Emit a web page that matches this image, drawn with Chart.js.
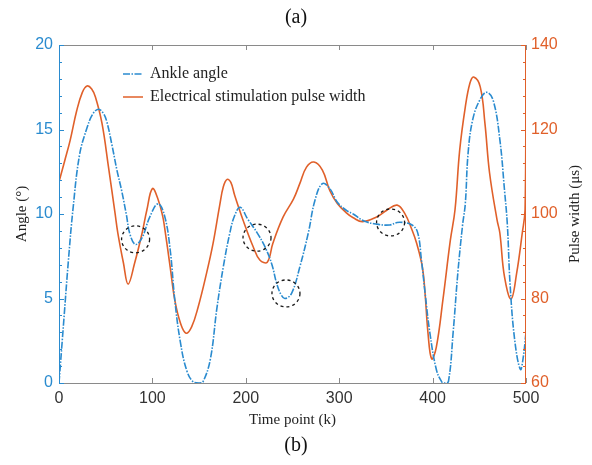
<!DOCTYPE html>
<html>
<head>
<meta charset="utf-8">
<script src="https://cdn.jsdelivr.net/npm/chart.js@4.4.0/dist/chart.umd.min.js"></script>
<style>
html, body { margin: 0; padding: 0; background: #fff; }
</style>
</head>
<body>
<canvas id="myChart" width="592" height="465"></canvas>
<script>
// ankle angle (deg)
let angleTimes = [0, 5, 10, 15, 22, 30, 36, 42, 47, 51, 57, 62, 67, 72, 76, 82, 89, 97, 106, 113, 119, 124, 130, 137, 144, 150, 154, 162, 169, 176, 183, 188, 194, 202, 212, 221, 228, 233, 238, 242, 249, 258, 267, 274, 282, 290, 298, 308, 315, 326, 340, 354, 362, 368, 378, 384, 388, 392, 397, 404, 410, 413, 417, 422, 427, 432, 435, 438, 443, 451, 458, 465, 472, 477, 480, 483, 488, 494, 497, 500];
let angleValues = [0, 3.6, 7.2, 10.3, 13.5, 15.1, 15.9, 16.2, 16.0, 15.5, 14.0, 12.6, 11.4, 10.0, 8.8, 8.2, 8.6, 9.8, 10.6, 9.9, 7.9, 4.9, 2.4, 0.7, 0.05, 0, 0.05, 1.4, 4.4, 6.9, 8.9, 9.9, 10.4, 9.7, 8.9, 8.0, 7.0, 5.9, 5.2, 5.0, 5.3, 6.9, 8.9, 10.8, 11.8, 11.5, 10.7, 10.2, 10.0, 9.6, 9.4, 9.35, 9.5, 9.5, 9.35, 8.9, 7.3, 5.3, 3.0, 0.8, 0.05, 0, 0.1, 3.0, 6.5, 9.3, 10.6, 13.6, 15.6, 16.8, 17.2, 16.7, 14.4, 11.4, 9.4, 5.8, 2.5, 0.8, 1.5, 3.0];

// stimulation pulse width (us)
let pulseTimes = [0, 6, 12, 19, 25, 30, 35, 39, 46, 53, 60, 63, 69, 74, 81, 89, 94, 100, 106, 111, 113, 119, 124, 130, 136, 142, 149, 158, 165, 172, 176, 180, 184, 188, 197, 208, 215, 223, 229, 240, 251, 258, 265, 273, 282, 290, 298, 308, 315, 325, 340, 351, 362, 370, 378, 383, 389, 392, 395, 399, 404, 411, 419, 424, 429, 435, 440, 444, 451, 456, 461, 469, 472, 477, 484, 490, 496, 499, 500];
let pulseValues = [107.6, 112.5, 117.5, 124.5, 128.8, 130.3, 129.6, 127.7, 121.5, 111.1, 100.2, 95.5, 88.4, 83.4, 88.4, 95.5, 100.9, 106.0, 103.5, 99.5, 96.9, 87.5, 79.6, 74.2, 71.8, 73.3, 78.0, 86.0, 93.1, 102, 106.5, 108.2, 107.5, 104.5, 98.6, 92.2, 89.1, 88.6, 93.1, 99.3, 103.5, 107.3, 111.1, 112.3, 110.4, 105.5, 102.5, 100.2, 99.1, 98.2, 99.3, 100.9, 102.1, 100.2, 96.2, 93, 87.5, 81, 72, 65.7, 68.5, 79.6, 93.8, 101, 115.1, 125.3, 131.0, 132.4, 130.1, 121.5, 109.7, 98.6, 95.5, 85.1, 79.9, 86.0, 95.5, 101, 127];

// dashed circles marking points of interest (time, angle)
let markTimes = [82, 212, 243, 355];
let markAngles = [8.5, 8.6, 5.3, 9.5];

let angleTicks = [0, 5, 10, 15, 20];
let pulseTicks = [60, 80, 100, 120, 140];
let timeTicks = [0, 100, 200, 300, 400, 500];

const blue = '#2a8bcf';
const orange = '#e0602a';

function toPoints(xs, ys) {
    let pts = [];
    for (let i = 0; i < xs.length; i++) {
        pts.push({ x: xs[i], y: ys[i] });
    }
    return pts;
}

// frame with inward ticks, like the matlab box
const framePlugin = {
    id: 'frame',
    afterDatasetsDraw(chart) {
        const { ctx, chartArea: a, scales } = chart;
        const line = (x1, y1, x2, y2) => {
            ctx.beginPath();
            ctx.moveTo(x1, y1);
            ctx.lineTo(x2, y2);
            ctx.stroke();
        };
        ctx.save();
        ctx.lineWidth = 1;
        ctx.strokeStyle = '#8a8a8a';
        line(a.left, a.top + 0.5, a.right, a.top + 0.5);
        line(a.left, a.bottom + 0.5, a.right, a.bottom + 0.5);
        timeTicks.forEach(v => {
            const px = Math.round(scales.x.getPixelForValue(v)) + 0.5;
            line(px, a.bottom, px, a.bottom - 5);
            line(px, a.top, px, a.top + 5);
        });
        ctx.strokeStyle = blue;
        line(a.left + 0.5, a.top, a.left + 0.5, a.bottom);
        for (let v = 0; v <= 20; v++) {
            const py = Math.round(scales.y.getPixelForValue(v)) + 0.5;
            line(a.left, py, a.left + (v % 5 === 0 ? 5 : 3), py);
        }
        ctx.strokeStyle = orange;
        line(a.right - 0.5, a.top, a.right - 0.5, a.bottom);
        for (let v = 60; v <= 140; v += 4) {
            const py = Math.round(scales.y2.getPixelForValue(v)) + 0.5;
            line(a.right, py, a.right - ((v - 60) % 20 === 0 ? 5 : 3), py);
        }

        // dashed circles
        ctx.strokeStyle = '#1a1a1a';
        ctx.lineWidth = 1.3;
        ctx.setLineDash([3, 3]);
        for (let i = 0; i < markTimes.length; i++) {
            const cx = scales.x.getPixelForValue(markTimes[i]);
            const cy = scales.y.getPixelForValue(markAngles[i]);
            ctx.beginPath();
            ctx.ellipse(cx, cy, 14, 13.5, 0, 0, Math.PI * 2);
            ctx.stroke();
        }
        ctx.restore();
    },
    afterDraw(chart) {
        const { ctx, chartArea: a, scales } = chart;
        ctx.save();
        // right axis title reads bottom to top
        ctx.fillStyle = '#222';
        ctx.font = '15px "Liberation Serif"';
        ctx.textAlign = 'center';
        ctx.textBaseline = 'middle';
        ctx.translate(scales.y2.right - 17, (a.top + a.bottom) / 2);
        ctx.rotate(-Math.PI / 2);
        ctx.fillText('Pulse width (\u03bcs)', 0, 0);
        ctx.restore();

        // legend inside the plot, no box
        ctx.save();
        ctx.font = '16px "Liberation Serif"';
        ctx.textBaseline = 'middle';
        chart.data.datasets.forEach((ds, i) => {
            const y = a.top + 29 + i * 23;
            ctx.strokeStyle = ds.borderColor;
            ctx.lineWidth = 1.5;
            ctx.setLineDash(ds.borderDash || []);
            ctx.beginPath();
            ctx.moveTo(a.left + 64, y);
            ctx.lineTo(a.left + 84, y);
            ctx.stroke();
            ctx.fillStyle = '#222';
            ctx.fillText(ds.label, a.left + 91, y);
        });
        ctx.restore();
    }
};

new Chart(document.getElementById('myChart'), {
    type: 'line',
    data: {
        datasets: [{
            label: 'Ankle angle',
            data: toPoints(angleTimes, angleValues),
            yAxisID: 'y',
            borderColor: blue,
            borderWidth: 1.6,
            borderDash: [7, 1.5, 1.5, 1.5],
            pointRadius: 0,
            tension: 0.4
        }, {
            label: 'Electrical stimulation pulse width',
            data: toPoints(pulseTimes, pulseValues),
            yAxisID: 'y2',
            borderColor: orange,
            borderWidth: 1.6,
            pointRadius: 0,
            tension: 0.4
        }]
    },
    options: {
        responsive: false,
        animation: false,
        layout: { padding: 0 },
        scales: {
            x: {
                type: 'linear',
                min: 0,
                max: 500,
                afterBuildTicks: (s) => { s.ticks = timeTicks.map(v => ({ value: v })); },
                ticks: { color: '#333', font: { family: 'Liberation Sans', size: 16 }, padding: 6, maxRotation: 0 },
                grid: { display: false, drawTicks: false },
                border: { display: false },
                title: { display: true, text: 'Time point (k)', color: '#222', font: { family: 'Liberation Serif', size: 15 }, padding: { top: 0, bottom: 5 } },
                afterFit: (s) => { s.height = 51; }
            },
            y: {
                position: 'left',
                min: 0,
                max: 20,
                afterBuildTicks: (s) => { s.ticks = angleTicks.map(v => ({ value: v })); },
                ticks: { color: blue, font: { family: 'Liberation Sans', size: 16 }, padding: 6 },
                grid: { display: false, drawTicks: false },
                border: { display: false },
                title: { display: true, text: 'Angle (\u00b0)', color: '#222', font: { family: 'Liberation Serif', size: 15 }, padding: { top: 13, bottom: 0 } },
                afterFit: (s) => { s.width = 59; }
            },
            y2: {
                position: 'right',
                min: 60,
                max: 140,
                afterBuildTicks: (s) => { s.ticks = pulseTicks.map(v => ({ value: v })); },
                ticks: { color: orange, font: { family: 'Liberation Sans', size: 16 }, padding: 5 },
                grid: { display: false, drawTicks: false },
                border: { display: false },
                afterFit: (s) => { s.width = 66; }
            }
        },
        plugins: {
            legend: { display: false },
            tooltip: { enabled: false },
            title: { display: true, text: '(a)', color: '#111', font: { family: 'Liberation Serif', size: 20, weight: 'normal' }, padding: { top: 6, bottom: 15 } },
            subtitle: { display: true, position: 'bottom', text: '(b)', color: '#111', font: { family: 'Liberation Serif', size: 20, weight: 'normal' }, padding: { top: 0, bottom: 7 } }
        }
    },
    plugins: [framePlugin]
});
</script>
</body>
</html>
